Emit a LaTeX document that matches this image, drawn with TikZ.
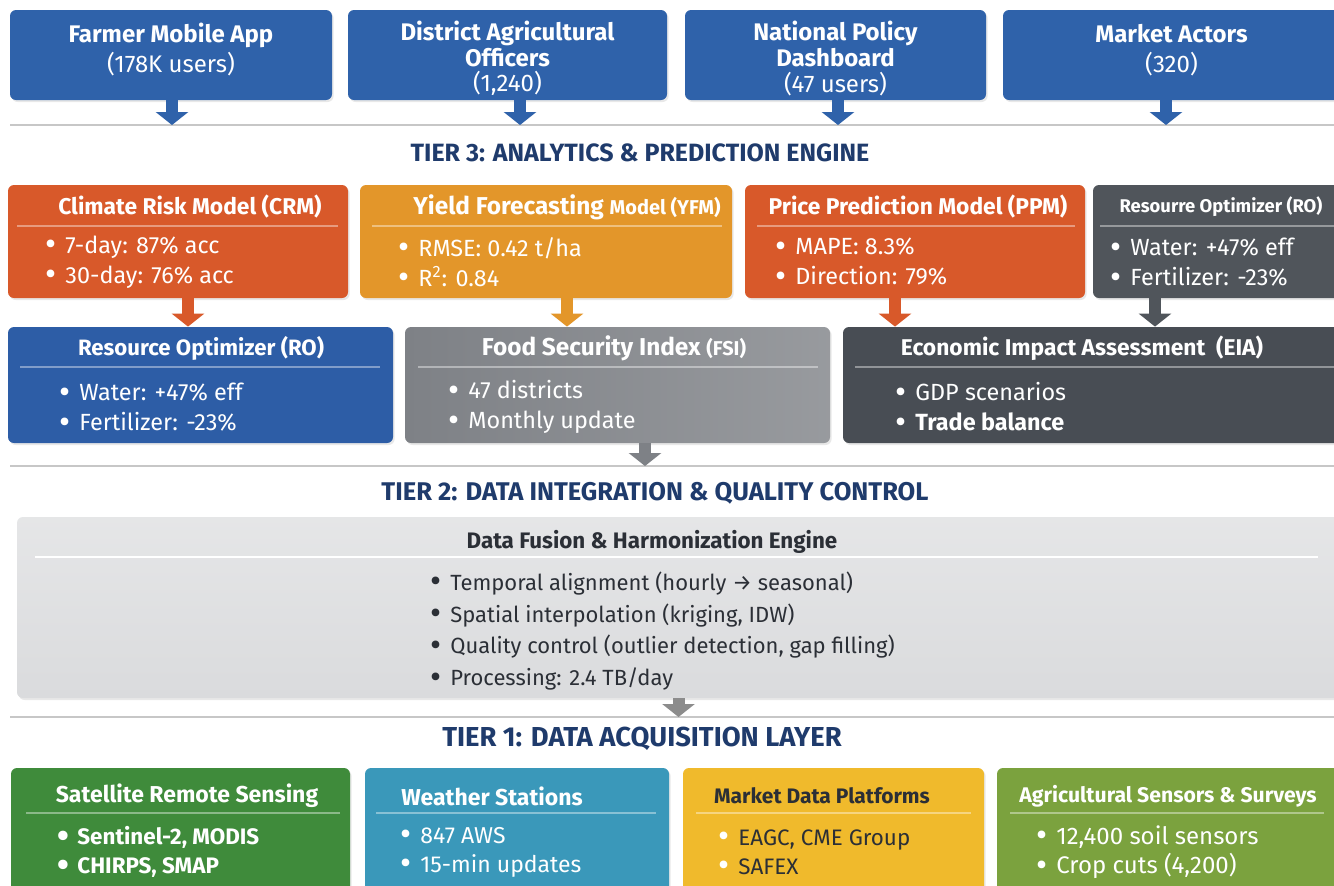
\documentclass[tikz,border=0pt]{standalone}
\usepackage{fontspec}
\setmainfont{Fira Sans}
\usetikzlibrary{arrows.meta,shadows}

\definecolor{userblue}{HTML}{2F62AA}
\definecolor{riskorange}{HTML}{D8592A}
\definecolor{yieldamber}{HTML}{E3962A}
\definecolor{optslate}{HTML}{50555B}
\definecolor{optblue}{HTML}{2D5DA6}
\definecolor{fsigray}{HTML}{7E8186}
\definecolor{eiaslate}{HTML}{484D54}
\definecolor{fusiongray}{HTML}{DADBDD}
\definecolor{satgreen}{HTML}{3F8B3B}
\definecolor{wsteal}{HTML}{3A98BA}
\definecolor{mktyellow}{HTML}{F0BA2C}
\definecolor{agriolive}{HTML}{7BA23E}
\definecolor{tiernavy}{HTML}{1F3B6C}
\definecolor{inktext}{HTML}{2B2F36}

% bigger bullet, lowered onto the text line
\newcommand{\bul}{\makebox[10pt][l]{\smash{\raisebox{-1.3pt}{\fontsize{17}{17}\selectfont •}}}}

\tikzset{
  card/.style={rounded corners=3pt, inner sep=0pt,
    drop shadow={opacity=0.18, shadow xshift=0.8pt, shadow yshift=-1pt}},
  usertext/.style={font=\fontsize{12}{15}\selectfont, text=white, align=center, inner sep=0pt},
  cardtitle/.style={font=\bfseries\fontsize{11.4}{13}\selectfont, text=white, inner sep=0pt},
  cardlist/.style={font=\fontsize{11.7}{15}\selectfont, text=white, align=left, anchor=west, inner sep=0pt},
  divider/.style={white, opacity=0.4, line width=0.6pt},
  tierhead/.style={font=\bfseries\fontsize{12.5}{14}\selectfont, text=tiernavy, inner sep=0pt},
  sepline/.style={black!22, line width=0.9pt},
  flow/.style={line width=6pt, -{Triangle[width=16pt,length=6.5pt]}},
}

\begin{document}
\begin{tikzpicture}[x=0.5pt, y=-0.5pt]
  \useasboundingbox (0,0) rectangle (1334,885);
  \clip (0,0) rectangle (1334,885);
  \fill[white] (0,0) rectangle (1334,885);

  % lines between the tiers
  \coordinate (sepc) at (10,125);
  \coordinate (sepb) at (10,466);
  \coordinate (sepa) at (10,717);
  \draw[sepline] (sepc) -- ++(1324,0);
  \draw[sepline] (sepb) -- ++(1324,0);
  \draw[sepline] (sepa) -- ++(1324,0);

  % users on top
  \node[card, fill=userblue, minimum width=161pt, minimum height=45pt] (farmer) at (171,55) {};
  \node[usertext] (farmer-txt) at (171,50) {\textbf{Farmer Mobile App}\\(178K users)};
  \node[card, fill=userblue, minimum width=159.5pt, minimum height=45pt] (officers) at (507.5,55) {};
  \node[usertext, font=\fontsize{12}{12.8}\selectfont] (officers-txt) at (507.5,58.5) {\textbf{District Agricultural}\\\textbf{Officers}\\(1,240)};
  \node[card, fill=userblue, minimum width=150.5pt, minimum height=45pt] (policy) at (835.5,55) {};
  \node[usertext, font=\fontsize{12}{12.8}\selectfont] (policy-txt) at (835.5,58.5) {\textbf{National Policy}\\\textbf{Dashboard}\\(47 users)};
  \node[card, fill=userblue, minimum width=168.5pt, minimum height=45pt] (market) at (1171.5,55) {};
  \node[usertext] (market-txt) at (1171.5,50) {\textbf{Market Actors}\\(320)};

  \draw[flow, userblue] ([xshift=0.5pt]farmer.south) -- ([xshift=0.5pt]farmer.south |- sepc);
  \draw[flow, userblue] ([xshift=6.25pt]officers.south) -- ([xshift=6.25pt]officers.south |- sepc);
  \draw[flow, userblue] ([xshift=1.25pt]policy.south) -- ([xshift=1.25pt]policy.south |- sepc);
  \draw[flow, userblue] ([xshift=-2.75pt]market.south) -- ([xshift=-2.75pt]market.south |- sepc);

  \node[tierhead] (tier3) at (640,153) {TIER 3: ANALYTICS \& PREDICTION ENGINE};

  % tier 3, models
  \node[card, fill=riskorange, minimum width=170pt, minimum height=56.5pt] (crm) at (178,241.5) {};
  \node[cardtitle] (crm-title) at (190,207) {Climate Risk Model (CRM)};
  \draw[divider] (17,226) -- (338,226);
  \node[cardlist] (crm-list) at (45,262) {\bul 7-day: 87\% acc\\\bul 30-day: 76\% acc};

  \node[card, fill=yieldamber, minimum width=186pt, minimum height=56.5pt] (yfm) at (546,241.5) {};
  \node[cardtitle, font=\bfseries\fontsize{12.2}{13}\selectfont] (yfm-title) at (567,207) {Yield Forecasting {\fontsize{10}{12}\selectfont Model (YFM)}};
  \draw[divider] (372,226) -- (722,226);
  \node[cardlist] (yfm-list) at (398,262) {\bul RMSE: 0.42 t/ha\\\bul R\textsuperscript{2}: 0.84};

  \node[card, fill=riskorange, minimum width=170pt, minimum height=56.5pt] (ppm) at (915,241.5) {};
  \node[cardtitle] (ppm-title) at (918,207) {Price Prediction Model (PPM)};
  \draw[divider] (757,226) -- (1075,226);
  \node[cardlist] (ppm-list) at (775,262) {\bul MAPE: 8.3\%\\\bul Direction: 79\%};

  \node[card, fill=optslate, minimum width=123.5pt, minimum height=56.5pt] (rox) at (1216.5,241.5) {};
  \node[cardtitle, font=\bfseries\fontsize{9.2}{11}\selectfont] (rox-title) at (1221,207) {Resourre Optimizer (RO)};
  \draw[divider] (1100,226) -- (1334,226);
  \node[cardlist] (rox-list) at (1110,262) {\bul Water: +47\% eff\\\bul Fertilizer: -23\%};

  % tier 3, indices
  \node[card, fill=optblue, minimum width=192.5pt, minimum height=58pt] (rob) at (200.5,385) {};
  \node[cardtitle, font=\bfseries\fontsize{11.1}{13}\selectfont] (rob-title) at (201,348) {Resource Optimizer (RO)};
  \draw[divider] (20,367) -- (380,367);
  \node[cardlist] (rob-list) at (59,407) {\bul Water: +47\% eff\\\bul Fertilizer: -23\%};

  \node[card, left color=fsigray, right color=fsigray!80!white, minimum width=212.5pt, minimum height=58pt] (fsi) at (617.5,385) {};
  \node[cardtitle, font=\bfseries\fontsize{12.2}{13}\selectfont] (fsi-title) at (614,348) {Food Security Index {\fontsize{10}{12}\selectfont (FSI)}};
  \draw[divider] (418,367) -- (818,367);
  \node[cardlist] (fsi-list) at (448,407) {\bul 47 districts\\\bul Monthly update};

  \node[card, fill=eiaslate, minimum width=248.5pt, minimum height=58pt] (eia) at (1091.5,385) {};
  \node[cardtitle] (eia-title) at (1082,348) {Economic Impact Assessment~ (EIA)};
  \draw[divider] (855,367) -- (1334,367);
  \node[cardlist] (eia-list) at (895,407) {\bul GDP scenarios\\\bul \textbf{Trade balance}};

  \draw[flow, riskorange] ([xshift=5pt]crm.south) -- ([xshift=5pt]crm.south |- rob.north);
  \draw[flow, yieldamber] ([xshift=10.5pt]yfm.south) -- ([xshift=10.5pt]yfm.south |- fsi.north);
  \draw[flow, riskorange] ([xshift=-10pt]ppm.south) -- ([xshift=-10pt]ppm.south |- eia.north);
  \draw[flow, optslate] ([xshift=-30.75pt]rox.south) -- ([xshift=-30.75pt]rox.south |- eia.north);
  \draw[flow, fsigray] ([xshift=13.75pt]fsi.south) -- ([xshift=13.75pt]fsi.south |- sepb);

  \node[tierhead, font=\bfseries\fontsize{12.8}{14}\selectfont] (tier2) at (655,493) {TIER 2: DATA INTEGRATION \& QUALITY CONTROL};

  % tier 2, fusion engine
  \node[card, top color=fusiongray!70!white, bottom color=fusiongray, minimum width=661.5pt, minimum height=90.5pt] (fusion) at (678.5,607.5) {};
  \node[cardtitle, text=inktext, font=\bfseries\fontsize{11.2}{13}\selectfont] (fusion-title) at (652,542) {Data Fusion \& Harmonization Engine};
  \draw[white, line width=1pt] (35,557) -- (1318,557);
  \node[cardlist, text=inktext, font=\fontsize{11}{15.9}\selectfont] (fusion-list) at (430,631)
    {\bul Temporal alignment (hourly → seasonal)\\\bul Spatial interpolation (kriging, IDW)\\\bul Quality control (outlier detection, gap filling)\\\bul Processing: 2.4 TB/day};
  \draw[flow, black!45] (fusion.south) -- (fusion.south |- sepa);

  \node[tierhead, font=\bfseries\fontsize{13.7}{15}\selectfont] (tier1) at (642,739) {TIER 1: DATA ACQUISITION LAYER};

  % tier 1, data sources
  \node[card, fill=satgreen, minimum width=169.5pt, minimum height=66pt] (sat) at (180.5,834) {};
  \node[cardtitle, font=\bfseries\fontsize{11.5}{13}\selectfont] (sat-title) at (187,796) {Satellite Remote Sensing};
  \draw[divider] (26,813) -- (340,813);
  \node[cardlist, font=\bfseries\fontsize{11.2}{14.6}\selectfont] (sat-list) at (57,852) {\bul Sentinel-2, MODIS\\\bul CHIRPS, SMAP};

  \node[card, fill=wsteal, minimum width=152pt, minimum height=66pt] (wst) at (517,834) {};
  \node[cardtitle, font=\bfseries\fontsize{11.5}{13}\selectfont] (wst-title) at (492,796) {Weather Stations};
  \draw[divider] (376,813) -- (656,813);
  \node[cardlist, font=\fontsize{11.5}{14.6}\selectfont] (wst-list) at (400,852) {\bul 847 AWS\\\bul 15-min updates};

  \node[card, fill=mktyellow, minimum width=150.5pt, minimum height=66pt] (mkt) at (833.5,834) {};
  \node[cardtitle, text=inktext, font=\bfseries\fontsize{10.5}{12}\selectfont] (mkt-title) at (822,796) {Market Data Platforms};
  \draw[divider] (696,813) -- (971,813);
  \node[cardlist, text=inktext, font=\fontsize{11.2}{14.6}\selectfont] (mkt-list) at (718,852) {\textcolor{white}{\bul}EAGC, CME Group\\\textcolor{white}{\bul}SAFEX};

  \node[card, fill=agriolive, minimum width=171.5pt, minimum height=66pt] (agri) at (1168.5,834) {};
  \node[cardtitle, font=\bfseries\fontsize{10.6}{12}\selectfont] (agri-title) at (1168,796) {Agricultural Sensors \& Surveys};
  \draw[divider] (1010,813) -- (1324,813);
  \node[cardlist, font=\fontsize{12}{14.6}\selectfont] (agri-list) at (1036,852) {\bul 12,400 soil sensors\\\bul Crop cuts (4,200)};

\end{tikzpicture}
\end{document}
